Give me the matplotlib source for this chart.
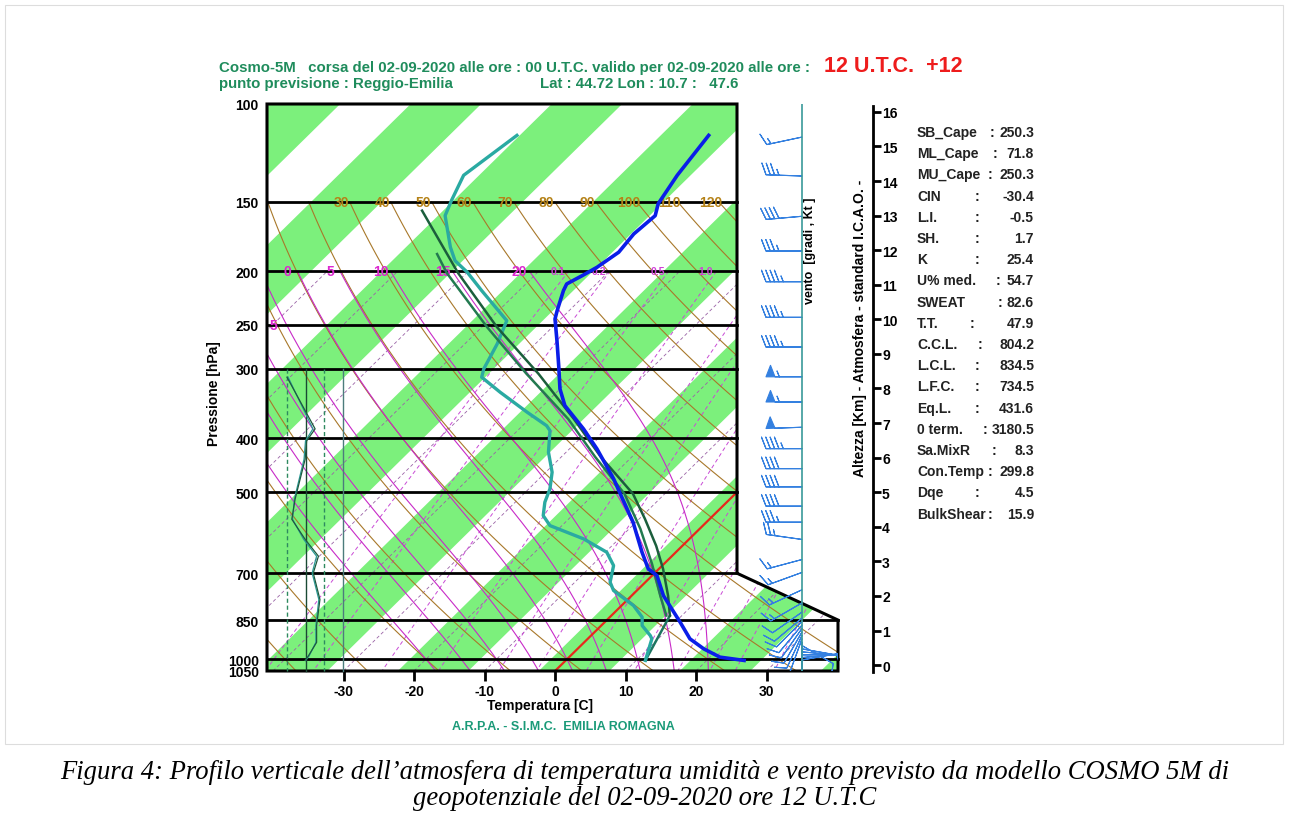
import numpy as np
import matplotlib
matplotlib.use("Agg")
import matplotlib.pyplot as plt
from matplotlib.patches import Polygon, Rectangle


# =========================
# Data
# =========================

# environment temperature (blue), surface -> top
temp_p = [1005, 991.4, 957.8, 918.9, 857.5, 811.6, 768.1, 706.9, 687.6, 641.6,
          566.5, 503.7, 473.4, 418.0, 384.7, 349.3, 326.0, 297.9, 266.8, 243.9,
          235.6, 216.8, 210.9, 203.8, 196.8, 184.9, 171.4, 158.9, 151.2, 134.4, 113.9]
temp_t = [25.3, 21.4, 17.9, 14.5, 10.7, 7.6, 4.5, 0.7, -1.5, -4.8,
          -10.4, -16.3, -19.4, -26.1, -30.9, -36.9, -40.0, -43.3, -47.4, -50.8,
          -51.7, -53.7, -54.2, -53.2, -52.3, -51.4, -51.9, -51.5, -52.8, -54.2, -55.5]

# dew point (teal)
dew_p = [1005, 919.0, 906.5, 869.6, 840.0, 800.5, 752.2, 726.5, 678.2, 641.6,
         607.1, 574.5, 551.2, 521.4, 493.4, 460.4, 423.8, 387.5, 379.6, 359.0,
         330.5, 310.5, 300.0, 270.5, 245.6, 216.8, 200.9, 191.5, 181.1, 158.9,
         149.1, 134.4, 113.9]
dew_t = [11.3, 9.1, 8.4, 5.8, 4.6, 1.7, -3.3, -5.0, -6.9, -9.8,
         -15.0, -21.7, -24.1, -25.8, -27.0, -29.1, -32.5, -35.4, -36.6, -41.3,
         -48.0, -52.8, -53.7, -55.4, -57.4, -65.3, -70.0, -73.4, -76.0, -81.3,
         -82.6, -84.5, -82.7]

# parcel paths (dark green)
sb_p = [834.5, 768.9, 687.6, 625.0, 558.7, 503.7, 432.1, 369.2, 306.3, 252.1, 201.5, 155.6]
sb_t = [8.3, 5.2, 0.6, -3.7, -9.2, -14.5, -24.4, -33.7, -45.2, -57.9, -71.2, -85.3]
ml_p = [834.5, 768.9, 673.4, 582.4, 503.7, 432.1, 369.2, 306.3, 252.1, 201.5, 186.3]
ml_t = [7.8, 4.1, -1.7, -8.4, -15.7, -25.2, -34.5, -46.9, -59.3, -72.8, -76.9]
mix_p = [1005, 834.5]
mix_t = [11.3, 8.3]

# small profile on the left (0-150 scale)
inset_p = [310.5, 384.7, 404.4, 436.4, 514.4, 559.6, 608.2, 652.3, 699.6, 780.4,
           869.6, 932.5, 985.8, 1005]
inset_a = [0, 76, 53, 49, 22, 13, 49, 85, 71, 89, 80, 80, 58, 49]
inset_b = [3, 70, 50, 46, 20, 15, 45, 80, 68, 86, 78, 78, 60, 50]

# wind (degrees, knots)
wind_p = [114.7, 134.8, 159.3, 184.0, 209.0, 242.2, 274.0, 310.0, 344.1, 382.1,
          417.6, 453.7, 489.3, 530.0, 566.4, 608.5, 661.3, 697.7, 749.7, 791.6,
          822.6, 843, 855, 868, 880, 893, 906, 919, 932, 945,
          958, 970, 982, 993, 1003]
wind_dir = [258, 272, 265, 270, 270, 270, 270, 270, 270, 268,
            270, 270, 270, 270, 270, 278, 255, 250, 245, 240,
            235, 230, 225, 220, 215, 210, 205, 200, 180, 120,
            100, 95, 90, 85, 80]
wind_spd = [15, 35, 40, 35, 45, 45, 45, 55, 55, 50,
            45, 40, 40, 40, 35, 25, 15, 15, 15, 15,
            12, 10, 10, 10, 10, 10, 10, 8, 6, 8,
            10, 12, 12, 10, 8]

# indices
param_names = ["SB_Cape", "ML_Cape", "MU_Cape", "CIN", "L.I.", "SH.", "K",
               "U% med.", "SWEAT", "T.T.", "C.C.L.", "L.C.L.", "L.F.C.", "Eq.L.",
               "0 term.", "Sa.MixR", "Con.Temp", "Dqe", "BulkShear"]
param_values = ["250.3", "71.8", "250.3", "-30.4", "-0.5", "1.7", "25.4",
                "54.7", "82.6", "47.9", "804.2", "834.5", "734.5", "431.6",
                "3180.5", "8.3", "299.8", "4.5", "15.9"]

p_ticks = [100, 150, 200, 250, 300, 400, 500, 700, 850, 1000, 1050]
t_ticks = [-30, -20, -10, 0, 10, 20, 30]
km_ticks = list(range(17))
dry_labels = [30, 40, 50, 60, 70, 80, 90, 100, 110, 120]
moist_labels = [0, 5, 10, 15, 20]
mixr_labels = [0.1, 0.2, 0.5, 1.0]

# =========================
# Layout helpers
# =========================
W, H = 1289, 837


def fx(px):
    return px / W


def fy(py):
    return 1 - py / H


K = 34.8  # skew


def skx(t, p):
    return np.asarray(t, float) + K * np.log(1050.0 / np.asarray(p, float))


def es(tc):
    return 6.112 * np.exp(17.67 * tc / (tc + 243.5))


def dry_t(theta_c, p):
    return (theta_c + 273.15) * (np.asarray(p) / 1000.0) ** 0.2857 - 273.15


def moist_lapse(tk, p):
    tc = tk - 273.15
    e = es(tc)
    rs = 0.622 * e / (p - e)
    num = 287.04 * tk + 2.501e6 * rs
    den = 1005.7 + (2.501e6 ** 2) * rs * 0.622 / (287.04 * tk ** 2)
    return num / den / p


def moist_t(tw, p_end):
    ps = np.linspace(1000, p_end, 300)
    t = tw + 273.15
    out = [t]
    for i in range(1, len(ps)):
        dp = ps[i] - ps[i - 1]
        k1 = moist_lapse(t, ps[i - 1])
        k2 = moist_lapse(t + k1 * dp / 2, ps[i - 1] + dp / 2)
        t = t + k2 * dp
        out.append(t)
    return ps, np.array(out) - 273.15


def mixr_t(w, p):
    e = w * np.asarray(p) / (622.0 + w)
    a = np.log(e / 6.112)
    return a * 243.5 / (17.67 - a)


plt.rcParams["font.family"] = ["Liberation Sans", "DejaVu Sans"]
plt.rcParams["font.weight"] = "bold"

fig = plt.figure(figsize=(W / 100, H / 100), dpi=100)

# =========================
# Main skew-T axes
# =========================
ax = fig.add_axes([fx(267), fy(672), (838 - 267) / W, (672 - 105) / H])
ax.set_yscale("log")
XL, XR = (267 - 555) / 7.05, (838 - 555) / 7.05
XM = (737 - 555) / 7.05
ax.set_xlim(XL, XR)
ax.set_ylim(1050, 100)
for s in ax.spines.values():
    s.set_visible(False)

frame = [(XL, 100), (XM, 100), (XM, 700), (XR, 850), (XR, 1050), (XL, 1050)]
clip = Polygon(frame, closed=True, transform=ax.transData)

# green stripes
for t1 in np.arange(-142.3, 40, 20):
    t2 = t1 + 10
    band = ax.fill([skx(t1, 1050), skx(t1, 100), skx(t2, 100), skx(t2, 1050)],
                   [1050, 100, 100, 1050], color="#7cf07c", lw=0, zorder=1)
    band[0].set_clip_path(clip)

grid = []
# dashed isotherms
for t in np.arange(-100, 50, 10):
    pp = np.array([1050, 200])
    grid += ax.plot(skx([t, t], pp), pp, color="#9a62a6", lw=0.6, ls=(0, (4, 3)), zorder=2)

# mixing ratio lines
for w in [0.1, 0.2, 0.5, 1, 2, 3, 5, 8, 12, 16, 20, 28]:
    pp = np.geomspace(200, 1050, 40)
    grid += ax.plot(skx(mixr_t(w, pp), pp), pp, color="#c94bd6", lw=0.7, ls=(0, (4, 3)), zorder=2)

# dry adiabats
for th in np.arange(-40, 180, 10):
    pp = np.geomspace(150, 1050, 60)
    grid += ax.plot(skx(dry_t(th, pp), pp), pp, color="#a8782a", lw=0.8, zorder=2)

# moist adiabats
moist = {}
for tw in np.arange(-20, 25, 5):
    pu, tu = moist_t(tw, 200)
    pd, td = moist_t(tw, 1050)
    pp = np.concatenate([pd[::-1], pu[1:]])
    tt = np.concatenate([td[::-1], tu[1:]])
    moist[tw] = (pp, tt)
    grid += ax.plot(skx(tt, pp), pp, color="#c82ac8", lw=0.8, zorder=2)

# 0 C isotherm
grid += ax.plot(skx([0, 0], [1050, 100]), [1050, 100], color="#e8281c", lw=1.6, zorder=3)

for g in grid:
    g.set_clip_path(clip)

# isobars
for p in [150, 200, 250, 300, 400, 500, 700]:
    ax.plot([XL, XM], [p, p], color="black", lw=2, zorder=4)
for p in [850, 1000]:
    ax.plot([XL, XR], [p, p], color="black", lw=2, zorder=4, clip_on=False)
ax.add_patch(Polygon(frame, closed=True, fill=False, ec="black", lw=2.2,
                     zorder=6, clip_on=False))

# labels on the grid
for th in dry_labels:
    ax.annotate(str(th), (skx(dry_t(th, 150), 150), 150), xytext=(-6, 0),
                textcoords="offset points", color="#b58218", fontsize=10,
                ha="center", va="center", zorder=5)
for tw in moist_labels:
    pp, tt = moist[tw]
    ax.annotate(str(tw), (skx(np.interp(200, pp[::-1], tt[::-1]), 200), 200),
                xytext=(-7, 0), textcoords="offset points",
                color="#dc28d0", fontsize=10, ha="center", va="center", zorder=5)
ax.text(XL + 0.4, 250, "5", color="#dc28d0", fontsize=10, ha="left", va="center", zorder=5)
for w in mixr_labels:
    ax.annotate(f"{w:.1f}", (skx(mixr_t(w, 200), 200), 200), xytext=(-8, 0),
                textcoords="offset points", color="#d040d8", fontsize=7.5,
                ha="center", va="center", zorder=5)

# profiles
ax.plot(skx(mix_t, mix_p), mix_p, color="#1d7560", lw=1.8, zorder=7)
ax.plot(skx(dew_t, dew_p), dew_p, color="#2aaaa2", lw=2.4, zorder=7)
ax.plot(skx(ml_t, ml_p), ml_p, color="#237a50", lw=1.8, zorder=7)
ax.plot(skx(sb_t, sb_p), sb_p, color="#1b5e3c", lw=1.8, zorder=7)
ax.plot(skx(temp_t, temp_p), temp_p, color="#0a1ee8", lw=2.6, zorder=8)

# axes ticks
ax.set_yticks(p_ticks)
ax.set_yticklabels([str(p) for p in p_ticks])
ax.yaxis.set_minor_locator(matplotlib.ticker.NullLocator())
ax.tick_params(axis="y", length=0, pad=6, labelsize=10)
ax.set_xticks(t_ticks)
ax.set_xticklabels([str(t) for t in t_ticks])
ax.tick_params(axis="x", length=7, width=2, pad=2, labelsize=10, direction="out")

# =========================
# Left profile box
# =========================
ax_in = fig.add_axes([fx(287), fy(672), (342.5 - 287) / W, (672 - 105) / H])
ax_in.set_yscale("log")
ax_in.set_ylim(1050, 100)
ax_in.set_xlim(0, 150)
ax_in.axis("off")
ax_in.plot([0, 0], [300, 1050], color="#2e8a60", lw=1, ls=(0, (3, 2)), clip_on=False)
ax_in.plot([100, 100], [300, 1050], color="#2e8a60", lw=1, ls=(0, (3, 2)), clip_on=False)
ax_in.plot([50, 50], [300, 1050], color="#1a4a34", lw=1, clip_on=False)
ax_in.plot([150, 150], [300, 1050], color="#4c7c7c", lw=1, clip_on=False)
ax_in.plot(inset_b, inset_p, color="#2a9a96", lw=0.9, clip_on=False)
ax_in.plot(inset_a, inset_p, color="#1e5a3e", lw=0.9, clip_on=False)

# =========================
# Wind barbs
# =========================
ax_w = fig.add_axes([fx(738), fy(672), 100 / W, (672 - 105) / H])
ax_w.set_yscale("log")
ax_w.set_ylim(1050, 100)
ax_w.set_xlim(-64, 36)
ax_w.axis("off")
ax_w.plot([0, 0], [100, 1050], color="#3a9a9a", lw=1.2)
wd = np.radians(wind_dir)
wu = -np.array(wind_spd) * np.sin(wd)
wv = -np.array(wind_spd) * np.cos(wd)
ax_w.barbs(np.zeros(len(wind_p)), wind_p, wu, wv, length=7.2, color="#3480e0",
           linewidth=0.8, sizes=dict(height=0.32, spacing=0.12))

# =========================
# Height axis
# =========================
ax_h = fig.add_axes([fx(853), fy(673), 20 / W, (673 - 107) / H])
ax_h.set_ylim(-0.2, 16.17)
for s in ["left", "top", "bottom"]:
    ax_h.spines[s].set_visible(False)
ax_h.spines["right"].set_linewidth(2)
ax_h.yaxis.tick_right()
ax_h.set_yticks(km_ticks)
ax_h.tick_params(axis="y", direction="out", length=5.5, width=2, pad=1, labelsize=10)
ax_h.set_xticks([])
ax_h.patch.set_visible(False)

# =========================
# Texts
# =========================
green = "#1f8c5c"
fig.text(fx(219), fy(68), "Cosmo-5M   corsa del 02-09-2020 alle ore : 00 U.T.C. valido per 02-09-2020 alle ore :",
         color=green, fontsize=10.8, va="center")
fig.text(fx(824), fy(67), "12 U.T.C.  +12", color="#ee1c1c", fontsize=15.5, va="center")
fig.text(fx(219), fy(84), "punto previsione : Reggio-Emilia", color=green, fontsize=10.8, va="center")
fig.text(fx(540), fy(84), "Lat : 44.72 Lon : 10.7 :   47.6", color=green, fontsize=10.8, va="center")

fig.text(fx(214), fy(394), "Pressione [hPa]", rotation=90, fontsize=10, ha="center", va="center")
fig.text(fx(540), fy(706), "Temperatura [C]", fontsize=10, ha="center", va="center")
fig.text(fx(563), fy(727), "A.R.P.A. - S.I.M.C.  EMILIA ROMAGNA", color="#1a9a78",
         fontsize=9, ha="center", va="center")
fig.text(fx(810), fy(251), "vento  [gradi , Kt ]", rotation=90, fontsize=9, ha="center", va="center")
fig.text(fx(860), fy(328), "Altezza [Km] - Atmosfera - standard I.C.A.O. -", rotation=90,
         fontsize=10, ha="center", va="center")

colon_px = [990, 993, 988, 975, 975, 975, 975, 996, 998, 970,
            978, 975, 975, 975, 983, 992, 988, 975, 988]
for i, (name, val) in enumerate(zip(param_names, param_values)):
    yy = 133 + 21.2 * i
    fig.text(fx(917), fy(yy), name, fontsize=10, va="center", color="#222222")
    fig.text(fx(colon_px[i]), fy(yy), ":", fontsize=10, va="center", color="#222222")
    fig.text(fx(1034), fy(yy), val, fontsize=10, va="center", ha="right", color="#222222")

cap = dict(family=["Liberation Serif", "DejaVu Serif"], style="italic",
           weight="normal", fontsize=19.2, ha="center", va="center")
fig.text(0.5, fy(773), "Figura 4: Profilo verticale dell\u2019atmosfera di temperatura umidit\u00e0 e vento previsto da modello COSMO 5M di", **cap)
fig.text(0.5, fy(799), "geopotenziale del 02-09-2020 ore 12 U.T.C", **cap)

fig.patches.append(Rectangle((fx(5), fy(745)), fx(1283) - fx(5), fy(6) - fy(745),
                             transform=fig.transFigure, fill=False, ec="#dddddd", lw=0.8))

fig.savefig("out.png", dpi=100)
